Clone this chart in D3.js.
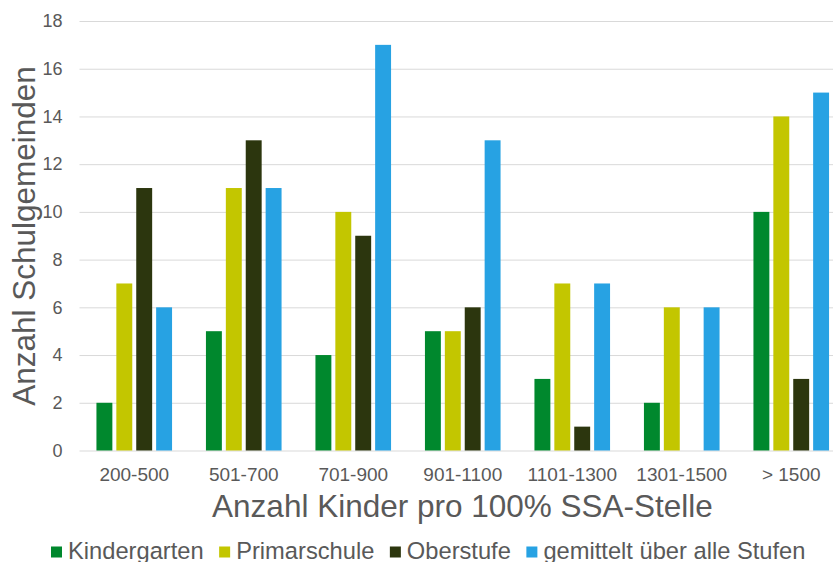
<!DOCTYPE html>
<html>
<head>
<meta charset="utf-8">
<script src="https://cdn.jsdelivr.net/npm/d3@7"></script>
<style>
  body { margin: 0; background: #fff; }
  svg { display: block; font-family: "Liberation Sans", Arial, sans-serif; }
</style>
</head>
<body>
<svg id="chart" width="833" height="562"></svg>
<script>
const categories = ['200-500', '501-700', '701-900', '901-1100', '1101-1300', '1301-1500', '> 1500']
const seriesNames = ['Kindergarten', 'Primarschule', 'Oberstufe', 'gemittelt über alle Stufen']
const kindergarten = [2, 5, 4, 5, 3, 2, 10]
const primarschule = [7, 11, 10, 5, 7, 6, 14]
const oberstufe = [11, 13, 9, 6, 1, 0, 3]
const gemittelt = [6, 11, 17, 13, 7, 6, 15]
const yTicks = [0, 2, 4, 6, 8, 10, 12, 14, 16, 18]

const colors = ['#00882D', '#C3C600', '#2C360E', '#27A2E3']
const textColor = '#595959'
const gridColor = '#D9D9D9'

const plot = { left: 79.5, right: 846, top: 21, bottom: 450.5 }

const seriesValues = [kindergarten, primarschule, oberstufe, gemittelt]
const rows = categories.map((cat, i) => ({ cat, values: seriesValues.map(s => s[i]) }))

const svg = d3.select('#chart')

const x = d3.scaleBand().domain(categories).range([plot.left, plot.right]).padding(0)
const y = d3.scaleLinear().domain([0, 18]).range([plot.bottom, plot.top])
const inner = d3.scaleBand().domain(d3.range(seriesNames.length))
	.range([(x.bandwidth() - 79.6) / 2, (x.bandwidth() + 79.6) / 2])
	.paddingInner(0.2).paddingOuter(0.1)

// y axis with gridlines
const yAxis = svg.append('g')
	.attr('transform', `translate(${plot.left},0)`)
	.call(d3.axisLeft(y).tickValues(yTicks).tickSize(-(833 - plot.left)).tickPadding(17))
yAxis.select('.domain').remove()
yAxis.selectAll('line').attr('stroke', gridColor).attr('stroke-width', 1)
yAxis.selectAll('text').attr('fill', textColor).style('font-size', '18px')

// bars
const groups = svg.append('g').selectAll('g').data(rows)
	.enter().append('g')
	.attr('transform', d => `translate(${x(d.cat)},0)`)

groups.selectAll('rect').data(d => d.values)
	.enter().append('rect')
	.attr('x', (d, i) => inner(i))
	.attr('width', inner.bandwidth())
	.attr('y', d => y(d))
	.attr('height', d => y(0) - y(d))
	.attr('fill', (d, i) => colors[i])

// x axis labels
const xAxis = svg.append('g')
	.attr('transform', `translate(0,${plot.bottom})`)
	.call(d3.axisBottom(x).tickSize(0).tickPadding(17))
xAxis.select('.domain').remove()
xAxis.selectAll('text').attr('fill', textColor).style('font-size', '19px')

// axis titles
svg.append('text')
	.attr('transform', 'translate(35,236) rotate(-90)')
	.attr('text-anchor', 'middle').attr('fill', textColor)
	.style('font-size', '31.5px')
	.text('Anzahl Schulgemeinden')

svg.append('text')
	.attr('x', 462.5).attr('y', 517)
	.attr('text-anchor', 'middle').attr('fill', textColor)
	.style('font-size', '31.5px')
	.text('Anzahl Kinder pro 100% SSA-Stelle')

// legend
const legend = svg.append('g')
let lx = 51
seriesNames.forEach((name, i) => {
	legend.append('rect')
		.attr('x', lx).attr('y', 546.5).attr('width', 11).attr('height', 11)
		.attr('fill', colors[i])
	const t = legend.append('text')
		.attr('x', lx + 17).attr('y', 558.5)
		.attr('fill', textColor).style('font-size', '23.7px')
		.text(name)
	lx += 17 + t.node().getComputedTextLength() + 15.5
})
</script>
</body>
</html>
